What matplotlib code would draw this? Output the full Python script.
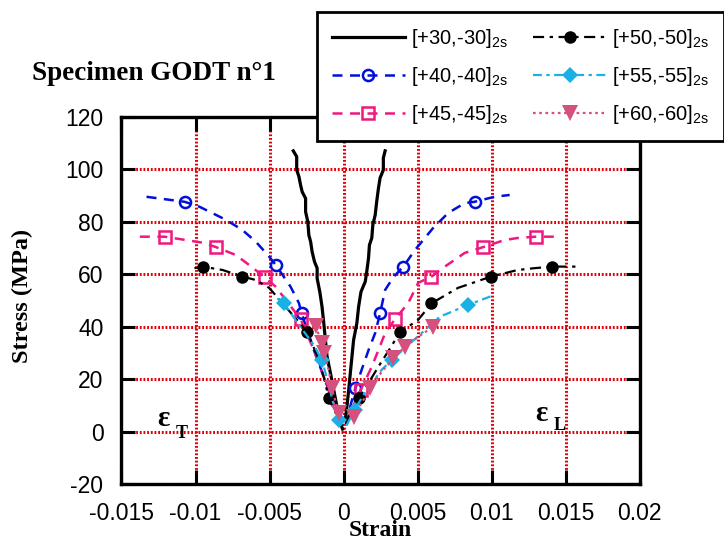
import matplotlib
matplotlib.use("Agg")
import matplotlib.pyplot as plt

plt.rcParams['font.family'] = ['Liberation Sans', 'DejaVu Sans']
plt.rcParams['mathtext.fontset'] = 'custom'
plt.rcParams['mathtext.rm'] = 'Liberation Sans'
plt.rcParams['axes.unicode_minus'] = False

# data: strain (transverse T / longitudinal L) and stress (MPa)
x30_T = [-0.0034, -0.00317, -0.00317, -0.00302, -0.00291, -0.0028, -0.00257, -0.00257,
         -0.00242, -0.00235, -0.00223, -0.00213, -0.00197, -0.00179, -0.00179, -0.00161,
         -0.00146, -0.00134, -0.00123, -0.00112, -0.00089, -0.00067, -0.00045, -0.00022, -0.00007]
s30_T = [107.0, 104.8, 99.7, 97.2, 94.0, 91.4, 88.9, 83.8, 80.0, 74.9, 72.4, 68.6, 64.8, 62.3,
         58.4, 53.3, 47.6, 41.3, 34.9, 28.6, 22.3, 15.9, 9.5, 3.2, 1.0]
x30_L = [0.00011, 0.00022, 0.00034, 0.00045, 0.00056, 0.00067, 0.00089, 0.00101, 0.00117,
         0.00146, 0.00156, 0.00168, 0.00174, 0.0019, 0.00197, 0.00213, 0.00223, 0.00235,
         0.00246, 0.00268, 0.00268, 0.0028]
s30_L = [4.5, 9.5, 15.9, 22.3, 28.6, 34.9, 41.3, 47.6, 53.3, 57.2, 61.0, 66.2, 71.1, 73.8,
         78.8, 82.6, 87.6, 92.8, 96.7, 99.7, 104.3, 107.0]

x40_T = [-0.01331, -0.01074, -0.00973, -0.00794, -0.00685, -0.00593, -0.00503, -0.00458,
         -0.00358, -0.00302, -0.00284, -0.00201, -0.00101, -0.00047, -0.00013]
s40_T = [89.5, 87.6, 85.7, 80.7, 76.9, 72.4, 66.7, 63.5, 55.2, 49.0, 45.1, 31.1, 15.9, 6.4, 1.4]
mk40_T = [1, 7, 10]
x40_L = [0.0002, 0.00047, 0.00079, 0.00121, 0.00168, 0.00213, 0.00246, 0.0028, 0.00336,
         0.00403, 0.00481, 0.00604, 0.00705, 0.00817, 0.00884, 0.01018, 0.01121]
s40_L = [2.5, 10.2, 16.5, 23.5, 31.1, 37.6, 45.1, 54.0, 58.9, 62.9, 69.2, 77.6, 83.3, 87.1, 87.6, 89.5, 90.2]
mk40_L = [2, 6, 9, 14]

x45_T = [-0.01376, -0.01208, -0.01062, -0.0094, -0.00861, -0.00727, -0.00638, -0.00532,
         -0.00458, -0.00391, -0.00291, -0.00201, -0.00114, -0.00054, -0.0002]
s45_T = [74.3, 74.3, 73.0, 71.9, 70.3, 67.3, 63.5, 58.8, 55.2, 50.2, 42.9, 31.1, 17.8, 8.3, 2.5]
mk45_T = [1, 4, 7, 10]
x45_L = [0.00013, 0.00067, 0.00114, 0.00148, 0.0019, 0.00235, 0.0028, 0.00347, 0.00436,
         0.00503, 0.00593, 0.00683, 0.00817, 0.0094, 0.01085, 0.01174, 0.01297, 0.01421]
s45_L = [2.5, 10.2, 15.9, 19.7, 24.8, 31.1, 37.6, 42.9, 49.0, 56.7, 59.1, 62.9, 68.1, 70.3,
         73.0, 73.8, 74.3, 74.3]
mk45_L = [2, 7, 10, 13, 16]

x50_T = [-0.01007, -0.00951, -0.00817, -0.00683, -0.00593, -0.00503, -0.00403, -0.00315,
         -0.00246, -0.00181, -0.00128, -0.00101, -0.00047, -0.00007]
s50_T = [62.3, 62.9, 61.6, 59.1, 57.8, 54.8, 48.3, 42.6, 38.1, 29.2, 19.7, 12.7, 6.4, 2.2]
mk50_T = [1, 3, 8, 11]
x50_L = [0.00013, 0.00047, 0.00101, 0.00168, 0.00235, 0.00315, 0.0038, 0.00503, 0.00593,
         0.00772, 0.00861, 0.00995, 0.01174, 0.01287, 0.01409, 0.01577]
s50_L = [2.9, 7.5, 12.7, 18.6, 24.8, 31.9, 37.9, 42.6, 48.9, 54.8, 56.5, 59.1, 61.6, 62.3, 62.9, 62.9]
mk50_L = [2, 6, 8, 11, 14]

x55_T = [-0.00448, -0.00403, -0.00302, -0.00201, -0.00146, -0.00101, -0.00067, -0.00034, -0.00013]
s55_T = [50.8, 48.9, 40.7, 33.0, 27.3, 17.8, 10.2, 4.5, 1.4]
mk55_T = [1, 4, 7]
x55_L = [0.0002, 0.00074, 0.00134, 0.0019, 0.00255, 0.00324, 0.00436, 0.00649, 0.00839, 0.01018]
s55_L = [2.5, 8.3, 14.0, 18.4, 23.5, 27.3, 33.0, 43.8, 48.3, 52.1]
mk55_L = [1, 5, 8]

x60_T = [-0.0019, -0.00146, -0.00134, -0.00101, -0.00079, -0.00034]
s60_T = [40.3, 33.7, 30.0, 23.5, 16.5, 7.1]
mk60_T = [0, 1, 2, 4, 5]
x60_L = [0.00067, 0.00179, 0.00255, 0.00336, 0.00414, 0.00503, 0.00604]
s60_L = [5.7, 16.5, 22.7, 28.0, 32.4, 36.1, 40.0]
mk60_L = [0, 1, 3, 4, 6]

labels = ['[+30,-30]', '[+40,-40]', '[+45,-45]', '[+50,-50]', '[+55,-55]', '[+60,-60]']

fig = plt.figure(figsize=(7.24, 5.43), dpi=100)
ax = fig.add_axes([0.1678, 0.1083, 0.716, 0.6767])

# styles
st30 = dict(color='black', lw=2.3, ls='-')
st40 = dict(color='#0010d8', lw=1.8, ls=(0, (4, 3)), marker='o', ms=8, mfc='none', mew=1.8)
st45 = dict(color='#f01880', lw=1.8, ls=(0, (4, 3)), marker='s', ms=8, mfc='none', mew=1.8)
st50 = dict(color='black', lw=1.6, ls=(0, (5, 2.5, 1.5, 2.5)), marker='o', ms=9, mfc='black', mew=0)
st55 = dict(color='#19b0e6', lw=1.6, ls=(0, (4, 2, 1.5, 2)), marker='D', ms=8, mfc='#19b0e6', mew=0)
st60 = dict(color='#d6507e', lw=1.6, ls=(0, (1.2, 1.6)), marker='v', ms=11, mfc='#d6507e', mew=0)

h30, = ax.plot(x30_T, s30_T, **st30)
ax.plot(x30_L, s30_L, **st30)
h40, = ax.plot(x40_T, s40_T, markevery=mk40_T, **st40)
ax.plot(x40_L, s40_L, markevery=mk40_L, **st40)
h45, = ax.plot(x45_T, s45_T, markevery=mk45_T, **st45)
ax.plot(x45_L, s45_L, markevery=mk45_L, **st45)
h50, = ax.plot(x50_T, s50_T, markevery=mk50_T, **st50)
ax.plot(x50_L, s50_L, markevery=mk50_L, **st50)
h55, = ax.plot(x55_T, s55_T, markevery=mk55_T, **st55)
ax.plot(x55_L, s55_L, markevery=mk55_L, **st55)
h60, = ax.plot(x60_T, s60_T, markevery=mk60_T, **st60)
ax.plot(x60_L, s60_L, markevery=mk60_L, **st60)

ax.set_xlim(-0.015, 0.02)
ax.set_ylim(-20, 120)
ax.set_xticks([-0.015, -0.01, -0.005, 0, 0.005, 0.01, 0.015, 0.02])
ax.set_xticklabels(['-0.015', '-0.01', '-0.005', '0', '0.005', '0.01', '0.015', '0.02'])
ax.set_yticks(range(-20, 121, 20))

ax.grid(True, color='#e3000b', lw=2.2, ls=(0, (0.6, 0.6)))
ax.set_axisbelow(True)
for sp in ax.spines.values():
    sp.set_linewidth(2.4)
ax.tick_params(direction='in', length=10, width=2.2, top=True, right=True, labelsize=16.5)
ax.tick_params(axis='x', pad=13)
ax.tick_params(axis='y', pad=13)

serif = ['Liberation Serif', 'DejaVu Serif']
fig.text(32 / 724, 1 - 73 / 543, 'Specimen GODT n°1', family=serif, weight='bold',
         fontsize=19.5, va='center', ha='left')
fig.text(380 / 724, 1 - 531 / 543, 'Strain', family=serif, weight='bold',
         fontsize=17, va='center', ha='center')
fig.text(22 / 724, 1 - 296 / 543, 'Stress (MPa)', family=serif, weight='bold',
         fontsize=17.5, va='center', ha='center', rotation=90)

ax.text(0.080, 0.180, 'ε', transform=ax.transAxes, family=serif, weight='bold',
        fontsize=21, ha='center', va='center')
ax.text(0.117, 0.139, 'T', transform=ax.transAxes, family=serif, weight='bold',
        fontsize=13, ha='center', va='center')
ax.text(0.810, 0.193, 'ε', transform=ax.transAxes, family=serif, weight='bold',
        fontsize=21, ha='center', va='center')
ax.text(0.846, 0.161, 'L', transform=ax.transAxes, family=serif, weight='bold',
        fontsize=13, ha='center', va='center')

leg = fig.legend([h30, h40, h45, h50, h55, h60],
                 [lab + r'$_{\mathregular{2s}}$' for lab in labels],
                 ncol=2, loc='upper left', bbox_to_anchor=(317 / 724, 1 - 12 / 543),
                 fontsize=14.5, frameon=True, fancybox=False, numpoints=1,
                 handlelength=3.6, handletextpad=0.3, columnspacing=1.3,
                 labelspacing=0.75, borderpad=0.75, borderaxespad=0)
leg.get_frame().set_edgecolor('black')
leg.get_frame().set_linewidth(2)
leg.get_frame().set_alpha(1)

fig.savefig('out.png', dpi=100)
